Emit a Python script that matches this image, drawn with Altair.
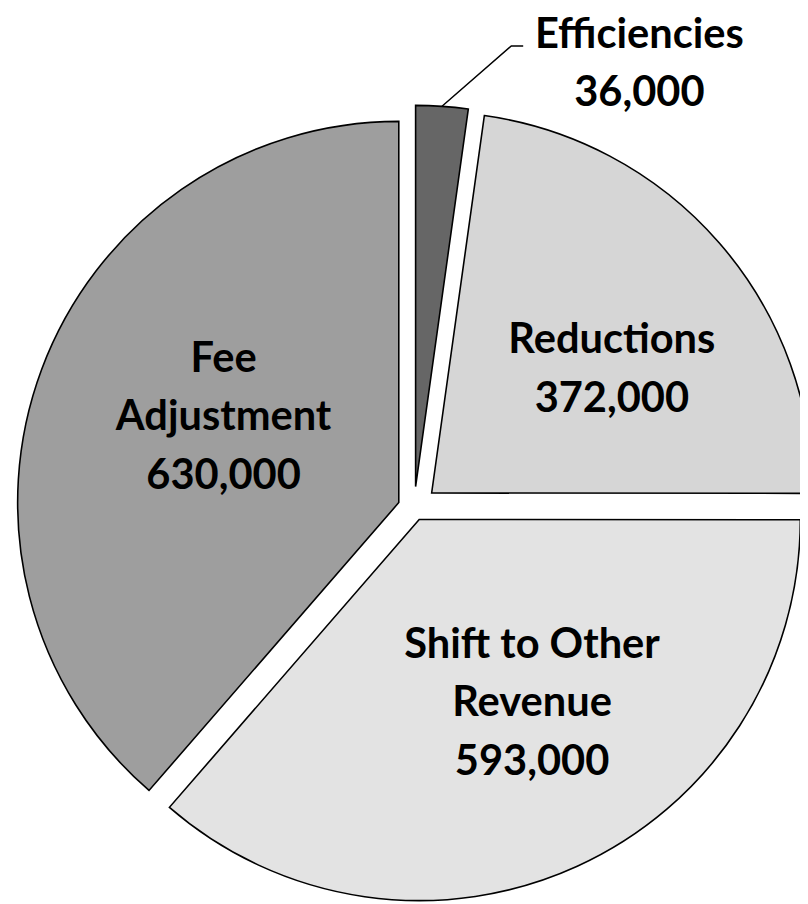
import math
import altair as alt
import pandas as pd

# ---------------- data ----------------
categories = ["Efficiencies", "Reductions", "Shift to Other Revenue", "Fee Adjustment"]
values = [36000, 372000, 593000, 630000]
name_lines = [["Efficiencies"], ["Reductions"], ["Shift to Other", "Revenue"], ["Fee", "Adjustment"]]

# ---------------- style / layout ----------------
W, H = 800, 896
CX, CY = 410.2, 500.8
RADIUS = 385
EXPLODE = {"Efficiencies": 22, "Reductions": 23.5, "Shift to Other Revenue": 12.4, "Fee Adjustment": 16.5}
COLORS = ["#666666", "#d6d6d6", "#e3e3e3", "#9e9e9e"]
# offset of the first text baseline from the slice apex (pixels)
LABEL_OFFSET = {
    "Efficiencies": (226, -443),
    "Reductions": (182, -141),
    "Shift to Other Revenue": (114, 140),
    "Fee Adjustment": (-177, -132),
}
LEADER_ELBOW = (70, -61)
LEADER_TAIL = 12
FONT = "Lato"
FONT_SIZE = 42
LINE_HEIGHT = 59

# ---------------- geometry from the data ----------------
total = sum(values)
rows, labels, leader = [], [], []
cum = 0
for cat, v, nl in zip(categories, values, name_lines):
    start, end = cum, cum + v
    cum = end
    mid = 2 * math.pi * (start + end) / 2 / total
    e = EXPLODE[cat]
    ax = CX + e * math.sin(mid)
    ay = CY - e * math.cos(mid)
    rows.append({"category": cat, "value": v, "start": start, "end": end, "ax": ax, "ay": ay})
    ox, oy = LABEL_OFFSET[cat]
    labels.append({"category": cat, "label": "\n".join(nl + [f"{v:,}"]), "lx": ax + ox, "ly": ay + oy})
    if cat == "Efficiencies":
        sx = ax + RADIUS * math.sin(mid)
        sy = ay - RADIUS * math.cos(mid)
        ex, ey = sx + LEADER_ELBOW[0], sy + LEADER_ELBOW[1]
        leader = [
            {"px": sx, "py": sy, "o": 0},
            {"px": ex, "py": ey, "o": 1},
            {"px": ex + LEADER_TAIL, "py": ey, "o": 2},
        ]

df = pd.DataFrame(rows)
df_lab = pd.DataFrame(labels)
df_lead = pd.DataFrame(leader)

xs = alt.Scale(domain=[0, W], nice=False, zero=False)
ys = alt.Scale(domain=[0, H], nice=False, zero=False, reverse=True)

arcs = alt.Chart(df).mark_arc(radius=RADIUS, stroke="black", strokeWidth=1.6).encode(
    x=alt.X("ax:Q", scale=xs, axis=None),
    y=alt.Y("ay:Q", scale=ys, axis=None),
    theta=alt.Theta("start:Q", scale=alt.Scale(domain=[0, total], range=[0, 2 * math.pi]), stack=False),
    theta2="end:Q",
    color=alt.Color("category:N", scale=alt.Scale(domain=categories, range=COLORS), legend=None),
)

text = alt.Chart(df_lab).mark_text(
    font=FONT, fontWeight="bold", fontSize=FONT_SIZE, lineHeight=LINE_HEIGHT,
    align="center", baseline="alphabetic", color="black", lineBreak="\n",
).encode(
    x=alt.X("lx:Q", scale=xs, axis=None),
    y=alt.Y("ly:Q", scale=ys, axis=None),
    text="label:N",
)

line = alt.Chart(df_lead).mark_line(color="black", strokeWidth=1.5).encode(
    x=alt.X("px:Q", scale=xs, axis=None),
    y=alt.Y("py:Q", scale=ys, axis=None),
    order="o:Q",
)

chart = alt.layer(arcs, line, text).properties(
    width=W, height=H, padding=0, autosize="none"
).configure_view(stroke=None)

chart.save("out.html", embed_options={"renderer": "svg", "actions": False})
